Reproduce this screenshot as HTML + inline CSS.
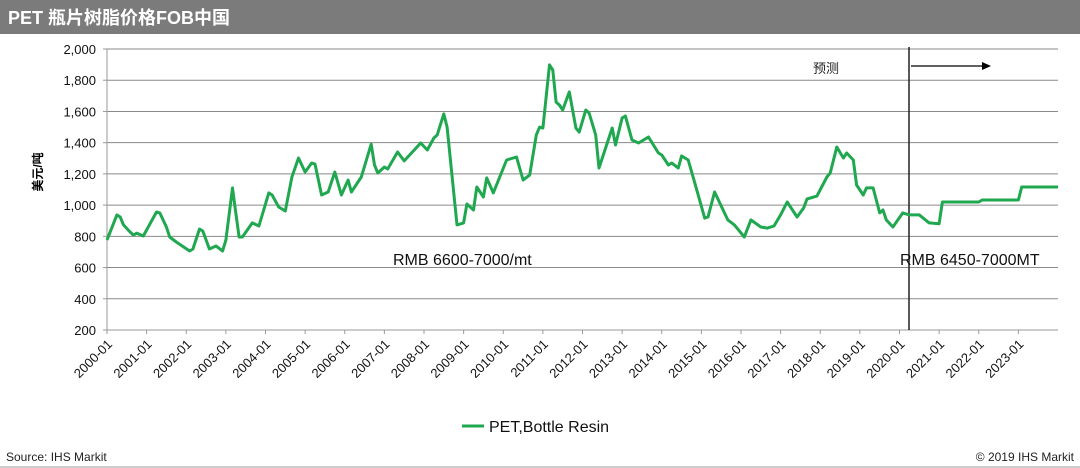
<!DOCTYPE html>
<html><head><meta charset="utf-8"><style>
body{margin:0;width:1080px;height:468px;background:#fff;overflow:hidden;font-family:"Liberation Sans","Noto Sans CJK SC",sans-serif}
svg{display:block}
</style></head><body>
<svg width="1080" height="468" font-family="Liberation Sans, Noto Sans CJK SC, sans-serif">
<rect x="0" y="0" width="1080" height="34" fill="#7b7b7b"/>
<text x="8" y="24" fill="#fff" font-size="18" font-weight="bold">PET 瓶片树脂价格FOB中国</text>
<g id="grid"></g>
<g id="axes"></g>
<text transform="translate(42,172) rotate(-90)" text-anchor="middle" font-size="12" font-weight="bold" fill="#000">美元/吨</text>
<line x1="909" y1="47" x2="909" y2="330" stroke="#222" stroke-width="1.5"/>
<line x1="911" y1="66" x2="982" y2="66" stroke="#000" stroke-width="1.2"/>
<polygon points="982,62 991,66 982,70" fill="#000"/>
<text x="813" y="73" font-size="13" fill="#222">预测</text>
<text x="393" y="265" font-size="16" fill="#111">RMB 6600-7000/mt</text>
<text x="900" y="265" font-size="16" fill="#111">RMB 6450-7000MT</text>
<path id="series" fill="none" stroke="#1fa84f" stroke-width="3" stroke-linejoin="round"/>
<line x1="462" y1="426" x2="484" y2="426" stroke="#1fa84f" stroke-width="3"/>
<text x="489" y="432" font-size="16" fill="#111">PET,Bottle Resin</text>
<text x="6" y="461" font-size="12" fill="#222">Source: IHS Markit</text>
<text x="1074" y="461" font-size="12" fill="#222" text-anchor="end">© 2019 IHS Markit</text>
<line x1="0" y1="467" x2="1080" y2="467" stroke="#999" stroke-width="1"/>
</svg>
<script>
const dates=["2000-01","2000-04","2000-05","2000-06","2000-08","2000-09","2000-10","2000-12","2001-04","2001-05","2001-07","2001-08","2001-10","2002-02","2002-03","2002-05","2002-06","2002-08","2002-10","2002-12","2003-01","2003-03","2003-04","2003-05","2003-06","2003-09","2003-11","2004-02","2004-03","2004-05","2004-07","2004-09","2004-11","2005-01","2005-03","2005-04","2005-06","2005-08","2005-10","2005-12","2006-02","2006-03","2006-06","2006-09","2006-10","2006-11","2007-01","2007-02","2007-05","2007-07","2007-12","2008-02","2008-04","2008-05","2008-07","2008-08","2008-11","2009-01","2009-02","2009-04","2009-05","2009-07","2009-08","2009-10","2010-02","2010-05","2010-07","2010-09","2010-11","2010-12","2011-01","2011-03","2011-04","2011-05","2011-06","2011-07","2011-09","2011-11","2011-12","2012-02","2012-03","2012-05","2012-06","2012-10","2012-11","2013-01","2013-02","2013-04","2013-06","2013-09","2013-12","2014-01","2014-03","2014-04","2014-06","2014-07","2014-09","2014-11","2015-02","2015-03","2015-05","2015-09","2015-11","2016-02","2016-04","2016-07","2016-09","2016-11","2017-01","2017-03","2017-06","2017-08","2017-09","2017-12","2018-03","2018-04","2018-06","2018-08","2018-09","2018-11","2018-12","2019-02","2019-03","2019-05","2019-07","2019-08","2019-09","2019-11","2020-02","2020-04","2020-07","2020-10","2021-01","2021-02","2022-01","2022-02","2023-01","2023-02","2024-01"];
const prices=[777,937,924,873,828,808,821,802,956,950,860,796,764,706,719,847,834,719,738,706,777,1110,950,796,796,886,866,1078,1065,988,962,1180,1302,1212,1270,1263,1065,1084,1212,1065,1161,1084,1180,1391,1257,1206,1244,1231,1340,1283,1398,1353,1430,1449,1584,1500,873,886,1007,969,1116,1052,1174,1078,1289,1308,1161,1193,1449,1500,1494,1898,1865,1660,1641,1609,1725,1494,1468,1609,1590,1449,1238,1494,1385,1558,1571,1417,1398,1436,1334,1321,1257,1270,1238,1315,1289,1142,917,924,1084,905,873,796,905,860,853,866,937,1020,924,982,1039,1058,1180,1206,1372,1302,1334,1289,1129,1065,1110,1110,950,969,905,860,950,937,937,886,880,1020,1020,1033,1033,1116,1116];
const yTicks=[200,400,600,800,1000,1200,1400,1600,1800,2000];
const xTickYears=[2000,2001,2002,2003,2004,2005,2006,2007,2008,2009,2010,2011,2012,2013,2014,2015,2016,2017,2018,2019,2020,2021,2022,2023];
const NS="http://www.w3.org/2000/svg";
const X0=107,X1=1058,Y0=330,Y1=49,MONTHS=288;
function xScale(d){const [y,m]=d.split("-").map(Number);return X0+((y-2000)*12+(m-1))/MONTHS*(X1-X0);}
function yScale(v){return Y0-(v-200)/1800*(Y0-Y1);}
const grid=document.getElementById("grid"),axes=document.getElementById("axes");
function mk(t,a,p){const e=document.createElementNS(NS,t);for(const k in a)e.setAttribute(k,a[k]);p.appendChild(e);return e;}
yTicks.forEach(v=>{const y=yScale(v);
 if(v>200){const g=mk("line",{x1:X0,x2:X1,y1:y,y2:y,stroke:"#8a8a8a","stroke-width":1},grid);
 
 }
 const tk=mk("line",{x1:X0-4,x2:X0,y1:y,y2:y,stroke:"#999"},axes);
 
 
 const t=mk("text",{x:X0-11,y:y+5,"text-anchor":"end","font-size":13,fill:"#111"},axes);
 t.textContent=v.toLocaleString("en-US");
 
 
});
const ya=mk("line",{x1:X0,x2:X0,y1:Y1,y2:Y0,stroke:"#999"},axes);


const xa=mk("line",{x1:X0,x2:X1,y1:Y0,y2:Y0,stroke:"#999"},axes);


xTickYears.forEach(yr=>{const x=xScale(yr+"-01");
 const tk=mk("line",{x1:x,x2:x,y1:Y0,y2:Y0+4,stroke:"#999"},axes);
 
 
 const t=mk("text",{transform:`translate(${x+6},${Y0+15}) rotate(-45)`,"text-anchor":"end","font-size":13,fill:"#111"},axes);
 t.textContent=yr+"-01";
 
 
});
document.getElementById("series").setAttribute("d",dates.map((d,i)=>(i?"L":"M")+xScale(d).toFixed(1)+","+yScale(prices[i]).toFixed(1)).join(""));
</script>
</body></html>
